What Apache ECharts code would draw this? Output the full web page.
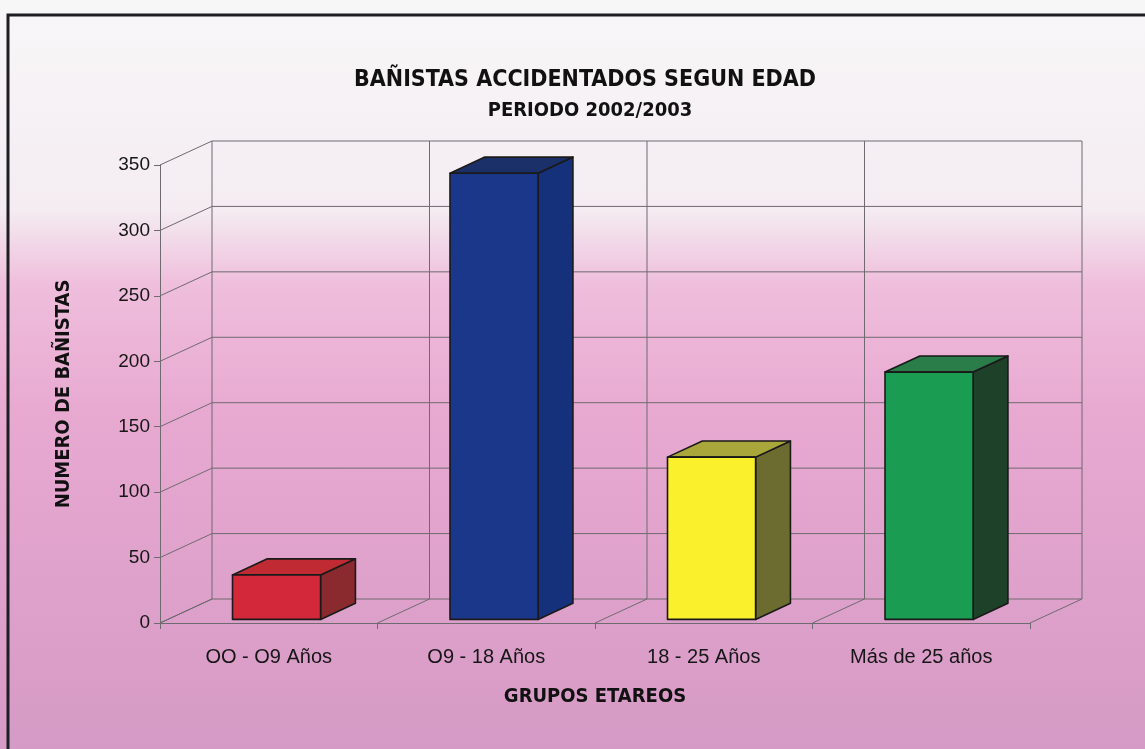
<!DOCTYPE html>
<html>
<head>
<meta charset="utf-8">
<script src="https://cdn.jsdelivr.net/npm/echarts@6/dist/echarts.min.js"></script>
<style>
  html, body { margin: 0; padding: 0; }
  #chart { width: 1145px; height: 749px; }
</style>
</head>
<body>
<div id="chart"></div>
<script>
  // datos
  var categorias = ['OO - O9 Años', 'O9 - 18 Años', '18 - 25 Años', 'Más de 25 años'];
  var banistas = [34, 341, 124, 189];
  var marcasY = [0, 50, 100, 150, 200, 250, 300, 350];

  // colores de cada barra: frente, tapa, lado
  var colores = [
    ['#d3283a', '#c02a32', '#8a2a2e'],
    ['#1b378a', '#1b3068', '#16317c'],
    ['#fbf02c', '#a9a63c', '#6c6c30'],
    ['#1a9c52', '#2a7c48', '#1e4229']
  ];

  // profundidad del "3D"
  var DX = 52, DY = -24;   // pared del fondo
  var FR = 0.15;           // donde empieza la barra dentro de la profundidad
  var BD = 0.67;           // profundidad de la barra
  var grisLinea = '#6f6a70';
  var fuenteAngosta = '"Liberation Sans Narrow", "DejaVu Sans Condensed", "Liberation Sans", sans-serif';

  var myChart = echarts.init(document.getElementById('chart'));

  // paredes: lineas de cada marca del eje Y
  function dibujarParedes(params, api) {
    var cs = params.coordSys;
    var v = api.value(1);
    var y = api.coord([0, v])[1];
    var x0 = cs.x, x1 = cs.x + cs.width;
    var hijos = [{
      type: 'polyline',
      shape: { points: [[x0, y], [x0 + DX, y + DY], [x1 + DX, y + DY]] },
      style: { stroke: grisLinea, lineWidth: 1, fill: null }
    }];
    if (v === 0) {
      var yTop = cs.y;
      var banda = cs.width / categorias.length;
      for (var k = 0; k <= categorias.length; k++) {
        var xk = x0 + k * banda;
        hijos.push({
          type: 'polyline',
          shape: { points: [[xk, y], [xk + DX, y + DY], [xk + DX, yTop + DY]] },
          style: { stroke: grisLinea, lineWidth: 1, fill: null }
        });
      }
    }
    return { type: 'group', children: hijos };
  }

  // barras en forma de caja
  function dibujarBarra(params, api) {
    var i = api.value(0);
    var v = api.value(1);
    var base = api.coord([i, 0]);
    var tope = api.coord([i, v]);
    var w = api.size([1, 0])[0] * 0.405;
    var fx = FR * DX, fy = FR * DY;
    var bx = BD * DX, by = BD * DY;
    var x0 = base[0] - w / 2 + fx, x1 = x0 + w;
    var yb = base[1] + fy, yt = tope[1] + fy;
    var c = colores[i];
    var borde = { stroke: '#1a1a1a', lineWidth: 1.6, lineJoin: 'round' };
    return {
      type: 'group',
      children: [
        { type: 'polygon', shape: { points: [[x1, yt], [x1 + bx, yt + by], [x1 + bx, yb + by], [x1, yb]] },
          style: Object.assign({ fill: c[2] }, borde) },
        { type: 'polygon', shape: { points: [[x0, yt], [x0 + bx, yt + by], [x1 + bx, yt + by], [x1, yt]] },
          style: Object.assign({ fill: c[1] }, borde) },
        { type: 'rect', shape: { x: x0, y: yt, width: w, height: yb - yt },
          style: Object.assign({ fill: c[0] }, borde) }
      ]
    };
  }

  myChart.setOption({
    backgroundColor: new echarts.graphic.LinearGradient(0, 0, 0, 1, [
      { offset: 0, color: '#f8f7f8' },
      { offset: 0.28, color: '#f4ecf1' },
      { offset: 0.38, color: '#efbedc' },
      { offset: 0.55, color: '#e8a9d1' },
      { offset: 1, color: '#d59ac5' }
    ]),
    graphic: [{
      type: 'polyline',
      shape: { points: [[8, 760], [8, 15], [1150, 15]] },
      style: { stroke: '#1e1e22', lineWidth: 3, fill: null }
    }],
    title: [{
      text: 'BAÑISTAS ACCIDENTADOS SEGUN EDAD',
      left: 580, top: 64, textAlign: 'center',
      textStyle: { fontFamily: fuenteAngosta, fontWeight: 'bold', fontSize: 23, color: '#111' }
    }, {
      text: 'PERIODO 2002/2003',
      left: 585, top: 96, textAlign: 'center',
      textStyle: { fontFamily: fuenteAngosta, fontWeight: 'bold', fontSize: 20, color: '#111' }
    }],
    grid: { left: 160, right: 115, top: 165, bottom: 126 },
    xAxis: {
      type: 'category',
      data: categorias,
      name: 'GRUPOS ETAREOS',
      nameLocation: 'middle',
      nameGap: 64,
      nameTextStyle: { fontFamily: fuenteAngosta, fontWeight: 'bold', fontSize: 20, color: '#111' },
      axisLine: { show: true, lineStyle: { color: grisLinea, width: 1 } },
      axisTick: { show: true, length: 6, lineStyle: { color: grisLinea } },
      axisLabel: { margin: 24, fontFamily: 'Liberation Sans, sans-serif', fontSize: 20, color: '#161616' },
      splitLine: { show: false }
    },
    yAxis: {
      type: 'value',
      min: 0, max: 350, interval: 50,
      name: 'NUMERO DE BAÑISTAS',
      nameLocation: 'middle',
      nameGap: 86,
      nameTextStyle: { fontFamily: fuenteAngosta, fontWeight: 'bold', fontSize: 20, color: '#111' },
      axisLine: { show: true, lineStyle: { color: grisLinea, width: 1 } },
      axisTick: { show: true, length: 6, lineStyle: { color: grisLinea } },
      axisLabel: { margin: 10, fontFamily: 'Liberation Sans, sans-serif', fontSize: 19, color: '#161616' },
      splitLine: { show: false }
    },
    series: [{
      type: 'custom',
      name: 'paredes',
      renderItem: dibujarParedes,
      clip: false,
      silent: true,
      data: marcasY.map(function (t) { return [0, t]; }),
      z: 1
    }, {
      type: 'custom',
      name: 'Bañistas',
      renderItem: dibujarBarra,
      clip: false,
      data: banistas.map(function (v, i) { return [i, v]; }),
      z: 3
    }]
  });
</script>
</body>
</html>
